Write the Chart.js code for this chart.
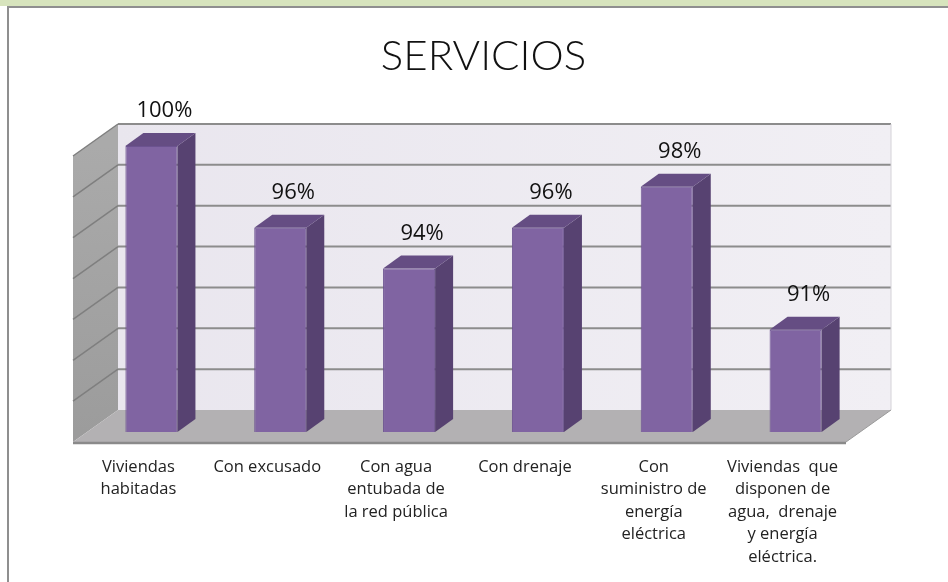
<!DOCTYPE html>
<html lang="es">
<head>
    <meta charset="UTF-8">
    <title>Servicios</title>
    <script src="https://cdn.jsdelivr.net/npm/chart.js"></script>
    <style>
        body {
            margin: 0;
            padding: 0;
            background: #fff;
        }

        .wrap {
            position: relative;
            width: 948px;
            height: 582px;
            overflow: hidden;
        }

        /* green ribbon and grey frame around the sheet */
        .band {
            position: absolute;
            left: 0;
            top: 0;
            width: 948px;
            height: 6px;
            background: #d7e4bd;
        }

        .frame {
            position: absolute;
            left: 7px;
            top: 6px;
            width: 941px;
            height: 576px;
            border-top: 2px solid #8f8f8f;
            border-left: 2px solid #8f8f8f;
            box-sizing: border-box;
        }

        canvas {
            position: absolute;
            left: 0;
            top: 0;
        }
    </style>
</head>
<body>
    <div class="wrap">
        <div class="band"></div>
        <div class="frame"></div>
        <canvas id="chart" width="948" height="582"></canvas>
    </div>

    <script>
        const categories = [
            ['Viviendas', 'habitadas'],
            ['Con excusado'],
            ['Con agua', 'entubada de', 'la red pública'],
            ['Con drenaje'],
            ['Con', 'suministro de', 'energía', 'eléctrica'],
            ['Viviendas  que', 'disponen de', 'agua,  drenaje', 'y energía', 'eléctrica.']
        ];
        const percentages = [100, 96, 94, 96, 98, 91];
        const valueLabels = ['100%', '96%', '94%', '96%', '98%', '91%'];
        const axisMin = 86;
        const axisMax = 100;
        const axisStep = 2;

        // oblique offsets: floor front edge, back wall, and bar thickness
        const FRONT = { dx: -14, dy: 10 };
        const BACK = { dx: 31, dy: -22 };
        const BAR_DEPTH = { dx: 18, dy: -13 };

        function fillPoly(ctx, pts, fill) {
            ctx.beginPath();
            ctx.moveTo(pts[0][0], pts[0][1]);
            for (let i = 1; i < pts.length; i++) ctx.lineTo(pts[i][0], pts[i][1]);
            ctx.closePath();
            ctx.fillStyle = fill;
            ctx.fill();
        }

        function line(ctx, x1, y1, x2, y2, color, width) {
            ctx.beginPath();
            ctx.moveTo(x1, y1);
            ctx.lineTo(x2, y2);
            ctx.strokeStyle = color;
            ctx.lineWidth = width;
            ctx.stroke();
        }

        const box3d = {
            id: 'box3d',
            beforeDatasetsDraw(chart) {
                const { ctx, chartArea: a, scales: { y } } = chart;
                const L = a.left, R = a.right, T = a.top, B = a.bottom;
                ctx.save();

                // back wall
                const wall = ctx.createLinearGradient(L + BACK.dx, 0, R + BACK.dx, 0);
                wall.addColorStop(0, '#e9e6ee');
                wall.addColorStop(1, '#f1eff4');
                ctx.fillStyle = wall;
                ctx.fillRect(L + BACK.dx, T + BACK.dy, R - L, B - T);

                // left side wall
                const side = ctx.createLinearGradient(0, T, 0, B);
                side.addColorStop(0, '#aaaaaa');
                side.addColorStop(1, '#9c9c9c');
                fillPoly(ctx, [
                    [L + FRONT.dx, T + FRONT.dy], [L + BACK.dx, T + BACK.dy],
                    [L + BACK.dx, B + BACK.dy], [L + FRONT.dx, B + FRONT.dy]
                ], side);

                // grid lines on both walls
                y.ticks.forEach(t => {
                    if (t.value <= axisMin) return;
                    const py = y.getPixelForValue(t.value);
                    line(ctx, L + BACK.dx, py + BACK.dy, R + BACK.dx, py + BACK.dy, '#8c8c8c', 2);
                    line(ctx, L + FRONT.dx, py + FRONT.dy, L + BACK.dx, py + BACK.dy, '#7f7f7f', 1.5);
                });
                line(ctx, R + BACK.dx, T + BACK.dy, R + BACK.dx, B + BACK.dy, '#d4d2d8', 1);

                // floor
                fillPoly(ctx, [
                    [L + FRONT.dx, B + FRONT.dy], [R + FRONT.dx, B + FRONT.dy],
                    [R + BACK.dx, B + BACK.dy], [L + BACK.dx, B + BACK.dy]
                ], '#b3b1b3');
                line(ctx, L + FRONT.dx, B + FRONT.dy + 1, R + FRONT.dx, B + FRONT.dy + 1, '#8a8a8a', 2.5);
                line(ctx, R + FRONT.dx, B + FRONT.dy, R + BACK.dx, B + BACK.dy, '#9a9a9a', 1);

                ctx.restore();
            },
            afterDatasetsDraw(chart) {
                const { ctx, chartArea } = chart;
                const meta = chart.getDatasetMeta(0);
                ctx.save();
                meta.data.forEach((bar, i) => {
                    const { x, y, base, width } = bar.getProps(['x', 'y', 'base', 'width'], true);
                    // bars start at zero, so cut them at the floor
                    const bottom = Math.min(base, chartArea.bottom);
                    const l = x - width / 2, r = x + width / 2;
                    // right face
                    fillPoly(ctx, [
                        [r, y], [r + BAR_DEPTH.dx, y + BAR_DEPTH.dy],
                        [r + BAR_DEPTH.dx, bottom + BAR_DEPTH.dy], [r, bottom]
                    ], '#574271');
                    // top face
                    fillPoly(ctx, [
                        [l, y], [r, y],
                        [r + BAR_DEPTH.dx, y + BAR_DEPTH.dy], [l + BAR_DEPTH.dx, y + BAR_DEPTH.dy]
                    ], '#654d83');

                    // value label above the bar
                    ctx.fillStyle = '#111';
                    ctx.font = '22px "Open Sans"';
                    ctx.textAlign = 'center';
                    ctx.textBaseline = 'middle';
                    ctx.fillText(valueLabels[i], x + 13, y + BAR_DEPTH.dy - 22);
                });
                ctx.restore();
            }
        };

        new Chart(document.getElementById('chart'), {
            type: 'bar',
            data: {
                labels: categories,
                datasets: [{
                    data: percentages,
                    backgroundColor: '#8064a2',
                    borderColor: '#6c5390',
                    borderWidth: 1,
                    barPercentage: 0.404,
                    categoryPercentage: 1
                }]
            },
            options: {
                responsive: false,
                animation: false,
                layout: { padding: { left: 87, right: 68, top: 10, bottom: 0 } },
                plugins: {
                    legend: { display: false },
                    tooltip: { enabled: false },
                    title: {
                        display: true,
                        text: 'SERVICIOS',
                        color: '#111',
                        font: { family: 'Lato', size: 42, weight: '300', lineHeight: 1.2 },
                        padding: { top: 21, bottom: 64.6 }
                    }
                },
                scales: {
                    x: {
                        grid: { display: false, drawTicks: false },
                        border: { display: false },
                        ticks: {
                            autoSkip: false,
                            maxRotation: 0,
                            minRotation: 0,
                            labelOffset: -13,
                            padding: 24,
                            color: '#222',
                            font: { family: 'Open Sans', size: 16.5, lineHeight: 1.36 }
                        },
                        afterFit(scale) { scale.height = 150; }
                    },
                    y: {
                        position: 'right',
                        min: axisMin,
                        max: axisMax,
                        ticks: { stepSize: axisStep, display: false },
                        grid: { display: false, drawTicks: false },
                        border: { display: false },
                        afterFit(scale) { scale.width = 20; }
                    }
                }
            },
            plugins: [box3d]
        });
    </script>
</body>
</html>
